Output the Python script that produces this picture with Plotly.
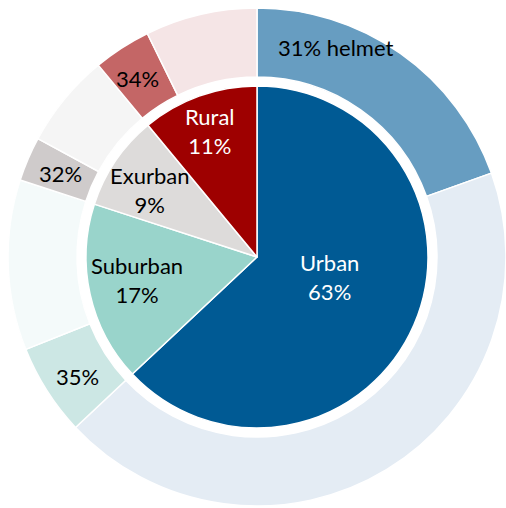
import plotly.graph_objects as go

# Share of riders by area type, and the share of each group wearing a helmet
areas = ["Urban", "Suburban", "Exurban", "Rural"]
area_share = [63, 17, 9, 11]
helmet_pct = [31, 35, 32, 34]

inner_colors = ["#005A94", "#99D4CB", "#DDDBDA", "#9E0000"]
helmet_colors = ["#679DC1", "#CCE7E4", "#CFCBCB", "#C46666"]
no_helmet_colors = ["#E4ECF4", "#F4FAFA", "#F5F5F5", "#F5E5E6"]
inner_text_colors = ["white", "black", "black", "white"]

W, H = 506, 508

# Outer ring: each area split into helmet / no-helmet parts
ring_labels, ring_values, ring_colors = [], [], []
for a, s, h, ch, cn in zip(areas, area_share, helmet_pct, helmet_colors, no_helmet_colors):
    ring_labels += [f"{a} helmet", f"{a} no helmet"]
    ring_values += [s * h / 100, s * (100 - h) / 100]
    ring_colors += [ch, cn]


def px_domain(cx, cy, r):
    return dict(x=[(cx - r) / W, min((cx + r) / W, 1)],
                y=[max((H - cy - r) / H, 0), (H - cy + r) / H])


cx, cy = 257, 257
fig = go.Figure()
fig.add_trace(go.Pie(
    labels=ring_labels, values=ring_values, sort=False, direction="clockwise",
    rotation=0, hole=180 / 249, textinfo="none",
    marker=dict(colors=ring_colors, line=dict(color="white", width=1.5)),
    domain=px_domain(cx, cy, 249), showlegend=False,
))
fig.add_trace(go.Pie(
    labels=areas, values=area_share, sort=False, direction="clockwise",
    rotation=0, textinfo="none",
    marker=dict(colors=inner_colors, line=dict(color="white", width=1.5)),
    domain=px_domain(cx, cy, 171), showlegend=False,
))

font = "Lato, 'Open Sans', sans-serif"


def note(x, y, text, color):
    fig.add_annotation(x=x / W, y=1 - y / H, xref="paper", yref="paper",
                       text=text, showarrow=False, xanchor="center", yanchor="middle",
                       font=dict(family=font, size=22, color=color))


# Inner labels: area name and share
inner_pos = [(329, 277), (137, 280), (149, 190), (210, 131)]
for a, s, c, (x, y) in zip(areas, area_share, inner_text_colors, inner_pos):
    note(x, y, f"{a}<br>{s}%", c)

# Outer labels: helmet share
outer_pos = [(336, 47), (77, 376), (60, 173), (137, 79)]
for i, (h, (x, y)) in enumerate(zip(helmet_pct, outer_pos)):
    note(x, y, f"{h}% helmet" if i == 0 else f"{h}%", "black")

fig.update_layout(width=W, height=H, margin=dict(l=0, r=0, t=0, b=0),
                  paper_bgcolor="white", plot_bgcolor="white")
fig.write_html("out.html")
